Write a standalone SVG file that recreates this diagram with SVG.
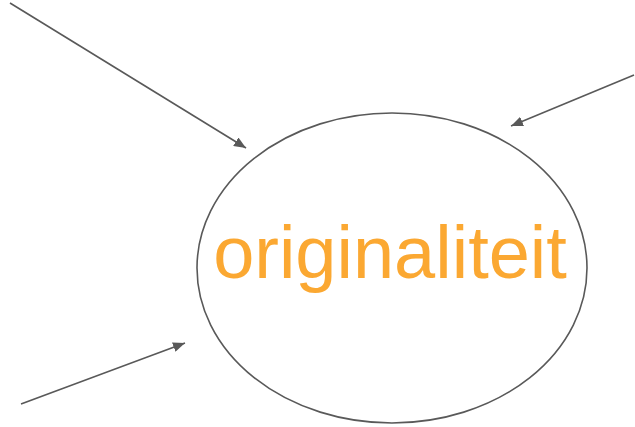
<svg xmlns="http://www.w3.org/2000/svg" width="635" height="427" viewBox="0 0 635 427">
<style>
.c{stroke:#595959;stroke-width:1.6;fill:none}
.lbl{font-family:"Liberation Sans",Arial,sans-serif;font-size:74px;fill:#FBA832}
</style>
<defs>
<marker id="ah" viewBox="0 0 12 10" refX="12" refY="5" markerWidth="12" markerHeight="10" markerUnits="userSpaceOnUse" orient="auto">
<path d="M0,0 L12,5 L0,10 Z" fill="#595959"/>
</marker>
</defs>
<rect width="635" height="427" fill="#fff"/>
<g id="connectors">
<line class="c" x1="10" y1="3" x2="246" y2="148" marker-end="url(#ah)"/>
<line class="c" x1="634" y1="75" x2="511" y2="126" marker-end="url(#ah)"/>
<line class="c" x1="21" y1="404" x2="185" y2="343" marker-end="url(#ah)"/>
</g>
<g id="node-originaliteit">
<ellipse cx="392" cy="268" rx="195" ry="155" fill="none" stroke="#595959" stroke-width="1.6"/>
<text class="lbl" x="390" y="278" text-anchor="middle">originaliteit</text>
</g>
</svg>
